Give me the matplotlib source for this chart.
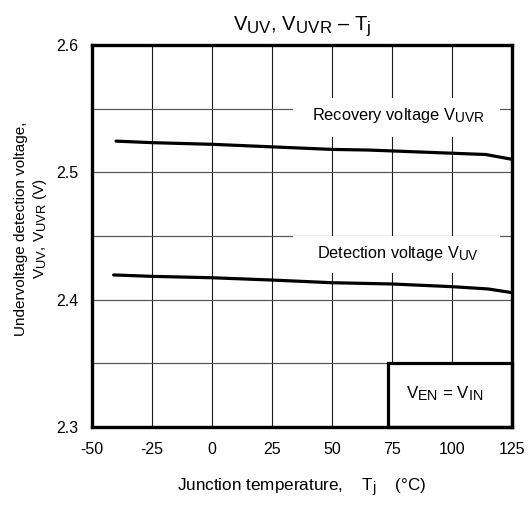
import matplotlib
matplotlib.use("Agg")
import matplotlib.pyplot as plt
import matplotlib._mathtext as mt
from matplotlib.patches import Rectangle

plt.rcParams["font.family"] = ["Liberation Sans", "DejaVu Sans"]
plt.rcParams["mathtext.fontset"] = "custom"
plt.rcParams["mathtext.rm"] = "Liberation Sans"
plt.rcParams["mathtext.it"] = "Liberation Sans"
mt.SHRINK_FACTOR = 0.84   # datasheet subscripts are only slightly smaller than the base text

# junction temperature (degC) and voltages
temp = [-40, -25, 0, 25, 50, 65, 75, 100, 114, 125]
v_uvr = [2.5245, 2.5233, 2.5220, 2.5200, 2.5180, 2.5175, 2.5168, 2.5150, 2.5140, 2.5102]
temp_uv = [-41, -25, 0, 25, 50, 75, 100, 115, 125]
v_uv = [2.4194, 2.4183, 2.4172, 2.4154, 2.4133, 2.4123, 2.4102, 2.4084, 2.4055]

xticks = [-50, -25, 0, 25, 50, 75, 100, 125]
yticks = [2.3, 2.4, 2.5, 2.6]
ygrid = [2.35, 2.4, 2.45, 2.5, 2.55]

fig = plt.figure(figsize=(5.31, 5.05), dpi=100)
ax = fig.add_axes([0.1733, 0.1545, 0.791, 0.7564])

for x in xticks[1:-1]:
    ax.axvline(x, color="0.1", lw=0.8, zorder=1)
for y in ygrid:
    ax.axhline(y, color="0.35", lw=0.9, zorder=1)

# white label patches that hide the grid behind the curve labels
for (x0, x1, y0, y1) in [(33.8, 120, 2.5277, 2.5584), (33.8, 120, 2.4209, 2.4500)]:
    ax.add_patch(Rectangle((x0, y0), x1 - x0, y1 - y0, facecolor="white",
                           edgecolor="none", zorder=2))

ax.plot(temp, v_uvr, color="black", lw=2.3, zorder=3, solid_capstyle="round")
ax.plot(temp_uv, v_uv, color="black", lw=2.3, zorder=3, solid_capstyle="round")

ax.text(77.5, 2.5445, r"Recovery voltage V$_{\mathrm{UVR}}$", ha="center", va="center",
        fontsize=11.8, zorder=4)
ax.text(77.5, 2.4365, r"Detection voltage V$_{\mathrm{UV}}$", ha="center", va="center",
        fontsize=11.7, zorder=4)

ax.add_patch(Rectangle((73.3, 2.3), 125 - 73.3, 0.0503, facecolor="white",
                       edgecolor="black", lw=2.3, zorder=4, clip_on=False))
ax.text(97, 2.3265, r"V$_{\mathrm{EN}}$ = V$_{\mathrm{IN}}$", ha="center", va="center",
        fontsize=12.2, zorder=5)

ax.set_xlim(-50, 125)
ax.set_ylim(2.3, 2.6)
ax.set_xticks(xticks)
ax.set_yticks(yticks)
ax.set_xticklabels([str(v) for v in xticks])
ax.set_yticklabels([f"{v:.1f}" for v in yticks])
ax.tick_params(length=0, labelsize=11.5)
ax.tick_params(axis="x", pad=11)
ax.tick_params(axis="y", pad=10)
for s in ax.spines.values():
    s.set_linewidth(2.4)
    s.set_zorder(6)

ax.set_xlabel(r"Junction temperature,    T$_{\mathrm{j}}$    (°C)", fontsize=12.3, labelpad=14)
ax.set_ylabel("Undervoltage detection voltage,\n" + r"V$_{\mathrm{UV}}$, V$_{\mathrm{UVR}}$ (V)",
              fontsize=11, linespacing=1.25)
ax.yaxis.set_label_coords(-0.103, 0.52)
ax.set_title(r"V$_{\mathrm{UV}}$, V$_{\mathrm{UVR}}$ – T$_{\mathrm{j}}$", fontsize=14.5, pad=11)

fig.savefig("out.png", dpi=100)
